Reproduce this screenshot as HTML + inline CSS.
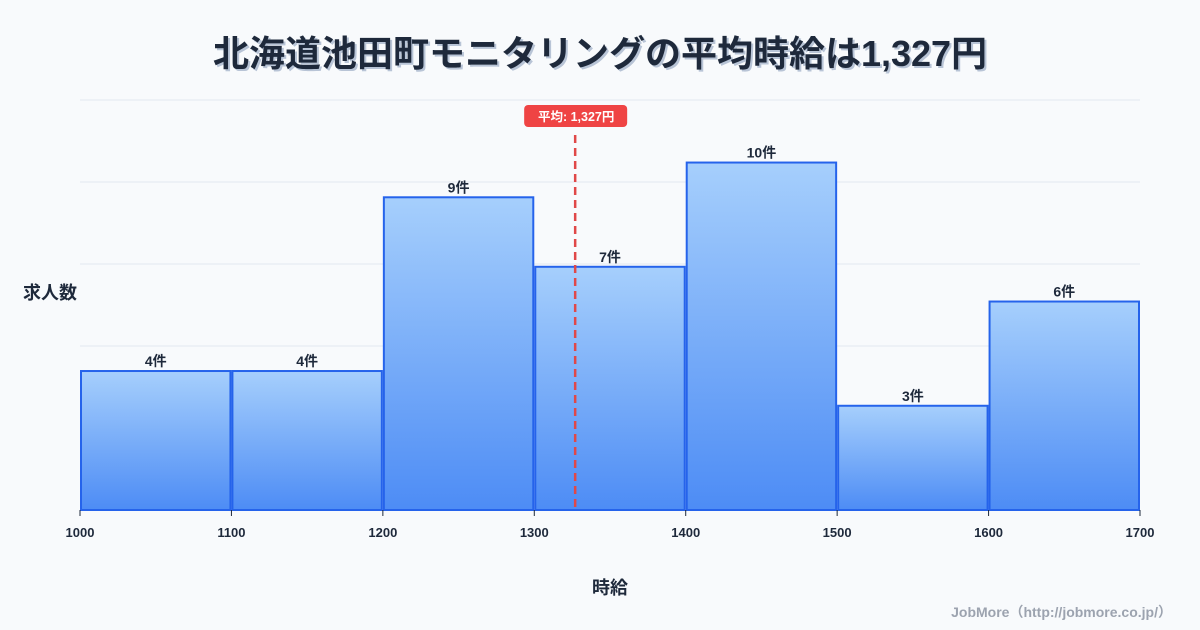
<!DOCTYPE html>
<html><head><meta charset="utf-8"><style>
body{margin:0;background:#f8fafc;}
svg{display:block;font-family:"Liberation Sans","Noto Sans CJK JP",sans-serif;}
</style></head><body>
<svg id="chart" width="1200" height="630" viewBox="0 0 1200 630">
<defs><linearGradient id="g" x1="0" y1="0" x2="0" y2="1"><stop offset="0" stop-color="#a6cffc"/><stop offset="1" stop-color="#4d8cf5"/></linearGradient></defs>
<rect width="1200" height="630" fill="#f8fafc"/>
<text x="602" y="68" text-anchor="middle" font-size="36" font-weight="bold" fill="#b8c4d6">北海道池田町モニタリングの平均時給は1,327円</text>
<text x="600" y="66" text-anchor="middle" font-size="36" font-weight="bold" fill="#1e293b">北海道池田町モニタリングの平均時給は1,327円</text>
<g id="grid"></g><g id="bars"></g><g id="xaxis"></g><g id="mean"></g>
<text x="50" y="299" text-anchor="middle" font-size="18" font-weight="bold" fill="#1e293b">求人数</text>
<text x="610" y="594" text-anchor="middle" font-size="18" font-weight="bold" fill="#1e293b">時給</text>
<text x="1172" y="617" text-anchor="end" font-size="14" font-weight="bold" fill="#9ca3af">JobMore（http://jobmore.co.jp/）</text>
</svg>
<script>
const binStarts=[1000,1100,1200,1300,1400,1500,1600];
const counts=[4,4,9,7,10,3,6];
const xTicks=[1000,1100,1200,1300,1400,1500,1600,1700];
const meanValue=1327;
const NS="http://www.w3.org/2000/svg";
const X0=80,X1=1140,B=510,T=100,YMAX=11.8;
const x=v=>X0+(v-1000)/(1700-1000)*(X1-X0);
const y=v=>B-v/YMAX*(B-T);
function mk(tag,attrs,parent,text){const e=document.createElementNS(NS,tag);for(const k in attrs)e.setAttribute(k,attrs[k]);if(text!=null)e.textContent=text;document.getElementById(parent).appendChild(e);return e;}
for(let i=0;i<5;i++){const gy=T+i*(B-T)/5;
const l=mk('line',{x1:X0,x2:X1,y1:gy,y2:gy,stroke:'#e2e8f0','stroke-width':1},'grid');

}
binStarts.forEach((s,i)=>{const xa=x(s)+1,xb=x(s+100)-1,top=y(counts[i]);
const r=mk('rect',{x:xa,y:top,width:xb-xa,height:B-top,fill:'url(#g)',stroke:'#2563eb','stroke-width':2},'bars');


const t=mk('text',{x:(xa+xb)/2,y:top-5,'text-anchor':'middle','font-size':14,'font-weight':'bold',fill:'#1e293b'},'bars',counts[i]+'件');

});
xTicks.forEach(v=>{const tk=mk('line',{x1:x(v),x2:x(v),y1:B,y2:B+6,stroke:'#1e293b','stroke-width':1},'xaxis');


const t=mk('text',{x:x(v),y:B+27,'text-anchor':'middle','font-size':13,'font-weight':'bold',fill:'#1e293b'},'xaxis',String(v));

});
const mx=x(meanValue);
const ml=mk('line',{x1:mx,x2:mx,y1:135,y2:B,stroke:'#e04848','stroke-width':2.5,'stroke-dasharray':'8,5'},'mean');


const mb=mk('rect',{x:mx-51,y:105,width:103,height:22,rx:4,fill:'#ef4444'},'mean');


const mt=mk('text',{x:mx+1,y:121,'text-anchor':'middle','font-size':12.5,'font-weight':'bold',fill:'#fff'},'mean','平均: 1,327円');


</script>
</body></html>
